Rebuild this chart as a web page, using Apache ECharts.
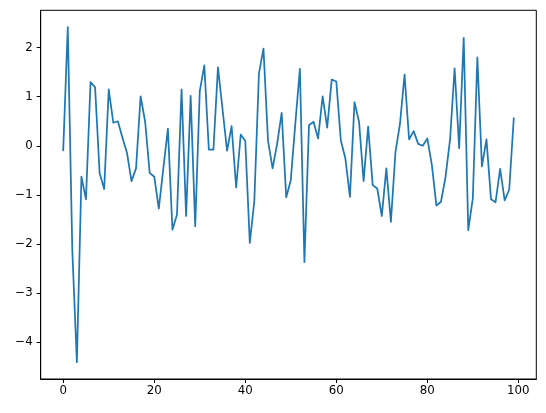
<!DOCTYPE html>
<html>
<head>
<meta charset="utf-8">
<script src="https://cdn.jsdelivr.net/npm/echarts@6/dist/echarts.min.js"></script>
<style>
html,body{margin:0;padding:0;background:#fff;}
#chart{width:546px;height:413px;}
</style>
</head>
<body>
<div id="chart"></div>
<script>
const values = [
  -0.09, 2.42, -2.15, -4.41, -0.63, -1.09, 1.30, 1.19, -0.56, -0.88,
  1.15, 0.47, 0.50, 0.17, -0.14, -0.72, -0.46, 1.01, 0.49, -0.55,
  -0.63, -1.28, -0.46, 0.35, -1.71, -1.40, 1.15, -1.43, 1.02, -1.64,
  1.11, 1.64, -0.08, -0.08, 1.60, 0.75, -0.10, 0.40, -0.85, 0.23,
  0.10, -1.98, -1.11, 1.47, 1.98, 0.10, -0.46, 0.04, 0.67, -1.05,
  -0.70, 0.45, 1.57, -2.37, 0.42, 0.49, 0.15, 1.01, 0.37, 1.35,
  1.31, 0.11, -0.26, -1.04, 0.89, 0.49, -0.72, 0.39, -0.80, -0.87,
  -1.43, -0.46, -1.55, -0.13, 0.45, 1.45, 0.13, 0.30, 0.04, 0.00,
  0.15, -0.39, -1.22, -1.14, -0.64, 0.13, 1.58, -0.05, 2.20, -1.72,
  -1.07, 1.80, -0.42, 0.13, -1.09, -1.15, -0.47, -1.11, -0.89, 0.56
];
const xTicks = [0, 20, 40, 60, 80, 100];
const yTicks = [-4, -3, -2, -1, 0, 1, 2];

const n = values.length;
const xMinData = 0, xMaxData = n - 1;
const xPad = 0.05 * (xMaxData - xMinData);
const yMinData = Math.min(...values), yMaxData = Math.max(...values);
const yPad = 0.05 * (yMaxData - yMinData);

const chart = echarts.init(document.getElementById('chart'), null, {renderer: 'canvas'});
const fmt = v => String(v).replace('-', '\u2212');
const font = {fontFamily: 'DejaVu Sans', fontSize: 11.8, color: '#000'};

chart.setOption({
  animation: false,
  backgroundColor: '#fff',
  grid: {
    left: 40.7, right: 9.7, top: 10.3, bottom: 34,
    show: true, borderColor: '#000', borderWidth: 1, backgroundColor: 'transparent'
  },
  xAxis: {
    type: 'value',
    min: xMinData - xPad,
    max: xMaxData + xPad,
    splitLine: {show: false},
    axisLine: {show: true, onZero: false, lineStyle: {color: '#000', width: 1}},
    axisTick: {show: true, length: 4, lineStyle: {color: '#000', width: 1}, customValues: xTicks},
    axisLabel: Object.assign({margin: 6, customValues: xTicks, formatter: fmt}, font)
  },
  yAxis: {
    type: 'value',
    min: yMinData - yPad,
    max: yMaxData + yPad,
    splitLine: {show: false},
    axisLine: {show: true, onZero: false, lineStyle: {color: '#000', width: 1}},
    axisTick: {show: true, length: 4, lineStyle: {color: '#000', width: 1}, customValues: yTicks},
    axisLabel: Object.assign({margin: 8, customValues: yTicks, formatter: fmt}, font)
  },
  series: [{
    type: 'line',
    data: values.map((v, i) => [i, v]),
    showSymbol: false,
    symbol: 'none',
    lineStyle: {color: '#1f77b4', width: 1.75, join: 'round', cap: 'square'},
    itemStyle: {color: '#1f77b4'}
  }]
});
</script>
</body>
</html>
